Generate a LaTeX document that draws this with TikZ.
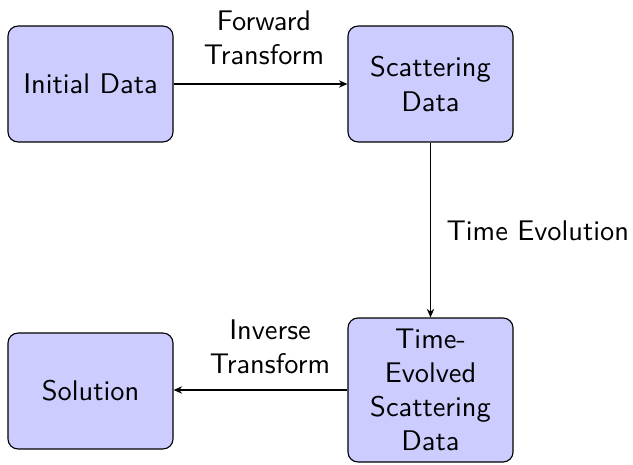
\documentclass[tikz,border=0pt]{standalone}
\usetikzlibrary{arrows.meta}
\begin{document}
\begin{tikzpicture}[x=0.3521pt,y=-0.3521pt,
  box/.style={draw=black, fill=blue!20, rounded corners=3.5pt, minimum width=58.1pt, minimum height=40.8pt, align=center, font=\sffamily, inner sep=0pt},
  lbl/.style={font=\sffamily, align=center, inner sep=0pt},
  conn/.style={-{Stealth[length=3pt,width=2.6pt]}, line width=0.4pt}]
\useasboundingbox (0,0) rectangle (633,464);
\node[box] (init) at (90.5,84) {Initial Data};
\node[box] (scat) at (430.5,84) {Scattering\\Data};
\node[box, minimum height=50.7pt] (tevo) at (430.5,390) {Time-\\Evolved\\Scattering\\Data};
\node[box] (sol) at (90.5,391) {Solution};
\draw[conn] (init) -- (scat);
\draw[conn] (scat) -- (tevo);
\draw[conn] (tevo.west) -- (sol.east |- tevo.west);
\node[lbl] (lf) at (264,38) {Forward\\Transform};
\node[lbl, anchor=west] (lt) at (446,231) {Time Evolution};
\node[lbl] (li) at (270,347) {Inverse\\Transform};
\end{tikzpicture}
\end{document}
